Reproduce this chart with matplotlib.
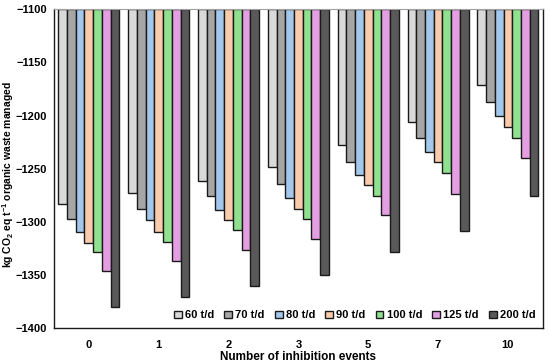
import numpy as np
import matplotlib.pyplot as plt

plt.rcParams['font.family'] = ['Liberation Sans', 'DejaVu Sans']
plt.rcParams['mathtext.fontset'] = 'custom'
plt.rcParams['mathtext.rm'] = 'Liberation Sans:bold'
plt.rcParams['mathtext.bf'] = 'Liberation Sans:bold'

events = ['0', '1', '2', '3', '5', '7', '10']
series_labels = ['60 t/d', '70 t/d', '80 t/d', '90 t/d', '100 t/d', '125 t/d', '200 t/d']

v60 = [-1283, -1273, -1262, -1249, -1228, -1206, -1171]
v70 = [-1298, -1288, -1276, -1265, -1244, -1221, -1187]
v80 = [-1310, -1299, -1289, -1278, -1256, -1234, -1200]
v90 = [-1320, -1310, -1299, -1288, -1266, -1244, -1211]
v100 = [-1329, -1319, -1308, -1298, -1276, -1254, -1221]
v125 = [-1347, -1337, -1327, -1316, -1294, -1274, -1240]
v200 = [-1381, -1371, -1361, -1350, -1329, -1309, -1276]

colors = ['#D9D9D9', '#A6A6A6', '#A4C8EC', '#F8CBAD', '#8FE08F', '#E49FE2', '#595959']

series = [v60, v70, v80, v90, v100, v125, v200]
base = -1100

fig = plt.figure(figsize=(5.5, 3.64), dpi=100)
ax = fig.add_axes([0.098, 0.100, 0.889, 0.874])

x = np.arange(len(events))
width = 1.0 / 8
for i, (vals, lab, col) in enumerate(zip(series, series_labels, colors)):
    offs = (i - 3) * width
    heights = np.array(vals) - base
    ax.bar(x + offs, heights, width, bottom=base, color=col,
           edgecolor='#1a1a1a', linewidth=1.0, label=lab)

ax.set_ylim(-1400, -1100)
ax.set_xlim(-0.5, len(events) - 0.5)
ax.set_yticks(np.arange(-1400, -1099, 50))
ax.set_xticks(x)
ax.set_xticklabels(events)
ax.tick_params(axis='both', length=0, labelsize=8)
ax.tick_params(axis='x', pad=9)
ax.tick_params(axis='y', pad=5)
for t in ax.get_xticklabels() + ax.get_yticklabels():
    t.set_fontweight('bold')

for s in ['left', 'bottom', 'right']:
    ax.spines[s].set_color('#1a1a1a')
    ax.spines[s].set_linewidth(1.0)
ax.spines['top'].set_color('#a0a0a0')

ax.set_xlabel('Number of inhibition events', fontsize=8.5, fontweight='bold', labelpad=1)
ax.set_ylabel('kg CO$_\\mathbf{2}$ eq t$^{\\mathbf{-1}}$ organic waste managed',
              fontsize=7.5, fontweight='bold')
ax.yaxis.set_label_coords(-0.078, 0.48)

leg = ax.legend(loc='lower right', ncol=7, frameon=False,
                prop={'weight': 'bold', 'size': 8},
                handlelength=0.7, handleheight=0.7, handletextpad=0.3,
                columnspacing=0.9, borderaxespad=0.25)

fig.savefig('out.png', dpi=100)
